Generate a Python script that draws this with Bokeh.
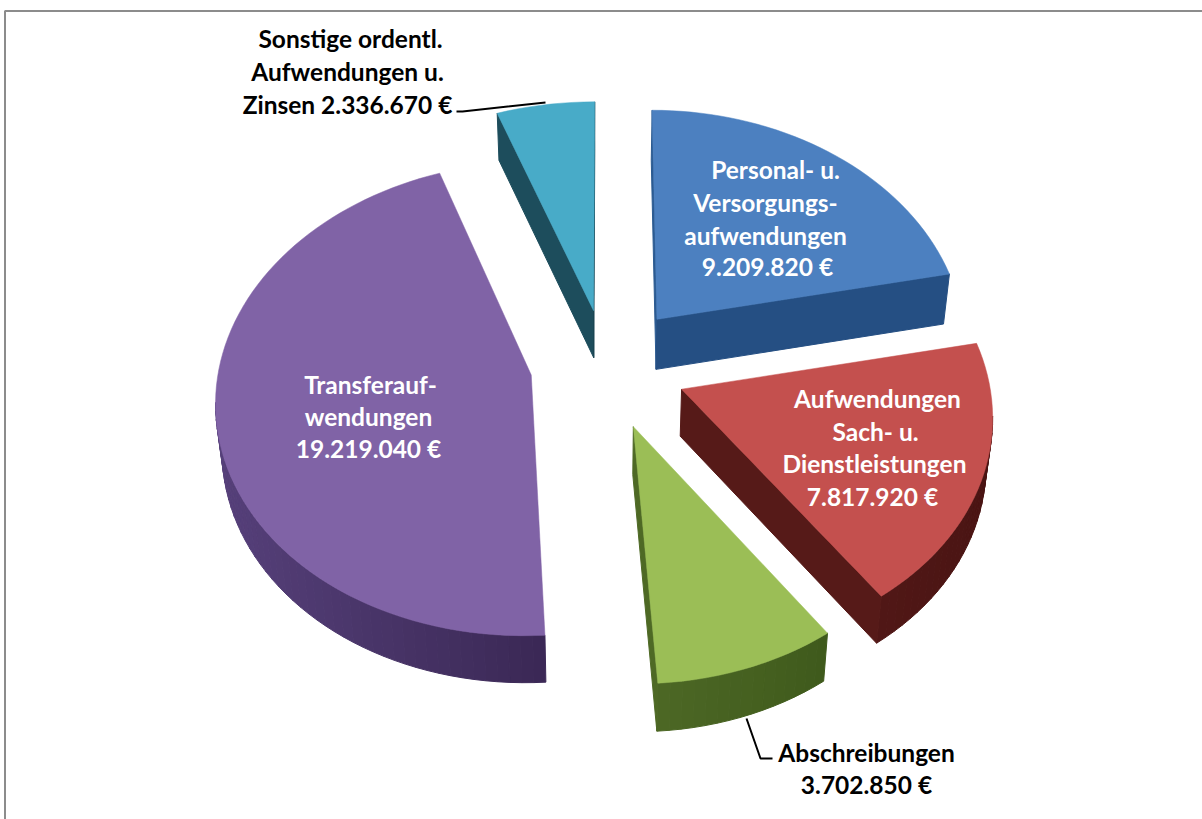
import math
from bokeh.plotting import figure
from bokeh.models import ColumnDataSource, Range1d
from bokeh.core.properties import value
from bokeh.embed import file_html
from bokeh.resources import INLINE

# --- data ---
categories = ["Personal- u. Versorgungsaufwendungen", "Aufwendungen Sach- u. Dienstleistungen",
              "Abschreibungen", "Transferaufwendungen", "Sonstige ordentl. Aufwendungen u. Zinsen"]
amounts = [9209820, 7817920, 3702850, 19219040, 2336670]
label_lines = [
    ["Personal- u.", "Versorgungs-", "aufwendungen", "9.209.820 €"],
    ["Aufwendungen", "Sach- u.", "Dienstleistungen", "7.817.920 €"],
    ["Abschreibungen", "3.702.850 €"],
    ["Transferauf-", "wendungen", "19.219.040 €"],
    ["Sonstige ordentl.", "Aufwendungen u.", "Zinsen 2.336.670 €"],
]

# --- style and layout ---
top_colors = ["#4c80c0", "#c4504e", "#9bbe56", "#8063a6", "#48abc8"]
wall_light = ["#2c5b92", "#5c1d1b", "#4f6a26", "#56407a", "#1f5566"]
wall_dark = ["#1f4474", "#4a1413", "#3f5a1c", "#3a2855", "#1a4552"]
text_colors = ["white", "white", "black", "white", "black"]
explode = [0.27, 0.27, 0.32, 0.22, 0.22]
radius_x = [0.975, 0.955, 0.93, 0.975, 1.0]
radius_y = [1.02, 0.97, 0.93, 0.99, 1.02]
shift_x = [3, 0, -2, 0, 5]
shift_y = [7, 5, -7, 4, 0]
depths = [50, 47, 48, 47, 47]
label_x = [[775, 765, 765, 767], [877, 875, 874, 872], [866, 866], [370, 368, 368], [350, 347, 347]]
label_y = [[169, 202, 235, 266], [398, 431, 463, 496], [752, 784], [384, 416, 448], [38, 71, 104]]
leaders_x = [[456, 462, 545], [746, 760, 772]]
leaders_y = [[111, 111, 102], [718, 758, 758]]
CX, CY, A, B, K, FLOOR_SCALE = 600, 360, 320, 235, 0.1, 0.983
W, H = 1202, 819


def project(X, Y):
    w = 1 + K * Y
    return CX + A * X / w, CY - B * Y / w


def mix(c1, c2, t):
    a = [int(c1[i:i + 2], 16) for i in (1, 3, 5)]
    b = [int(c2[i:i + 2], 16) for i in (1, 3, 5)]
    return "#%02x%02x%02x" % tuple(round(p + (q - p) * t) for p, q in zip(a, b))


def floor(xv):
    return CX + (xv - CX) * FLOOR_SCALE


total = sum(amounts)
tops_x, tops_y, top_fill = [], [], []
walls_x, walls_y, wall_fill = [], [], []
start = 0.0
for i, v in enumerate(amounts):
    sweep = 2 * math.pi * v / total
    mid = start + sweep / 2
    ex, ey = explode[i] * math.sin(mid), explode[i] * math.cos(mid)
    n = max(6, int(sweep / math.radians(2)))
    pts = [project(ex, ey)]
    for j in range(n + 1):
        t = start + sweep * j / n
        pts.append(project(ex + radius_x[i] * math.sin(t), ey + radius_y[i] * math.cos(t)))
    pts = [(q[0] + shift_x[i], q[1] + shift_y[i]) for q in pts]
    pts_closed = pts + [pts[0]]
    xs_all = [q[0] for q in pts]
    x0, x1 = min(xs_all), max(xs_all)
    for (xa, ya), (xb, yb) in zip(pts_closed[:-1], pts_closed[1:]):
        if (xb - xa) < -1e-6:  # edge faces the viewer
            tt = ((xa + xb) / 2 - x0) / max(1, x1 - x0)
            walls_x.append([xa, xb, floor(xb), floor(xa)])
            walls_y.append([ya, yb, yb + depths[i], ya + depths[i]])
            wall_fill.append(mix(wall_light[i], wall_dark[i], tt))
    tops_x.append([q[0] for q in pts])
    tops_y.append([q[1] for q in pts])
    top_fill.append(top_colors[i])
    start += sweep

p = figure(width=W, height=H, output_backend="svg", toolbar_location=None,
           x_range=Range1d(0, W), y_range=Range1d(H, 0), min_border=0,
           outline_line_color=None, background_fill_color="white",
           border_fill_color="white", x_axis_location=None, y_axis_location=None,
           styles={"position": "absolute", "left": "0px", "top": "0px"})
p.grid.visible = False

# frame of the picture
p.line([4.5, 4.5, W], [H, 10.5, 10.5], line_color="#8c8c8c", line_width=2)

p.patches("x", "y", source=ColumnDataSource(dict(x=walls_x, y=walls_y, c=wall_fill)),
          fill_color="c", line_color="c", line_width=1)
p.patches("x", "y", source=ColumnDataSource(dict(x=tops_x, y=tops_y, c=top_fill)),
          fill_color="c", line_color="c", line_width=0.5)

p.multi_line(leaders_x, leaders_y, line_color="black", line_width=2)

tx, ty, tt, tc = [], [], [], []
for i, lines in enumerate(label_lines):
    for j, s in enumerate(lines):
        tx.append(label_x[i][j])
        ty.append(label_y[i][j])
        tt.append(s)
        tc.append(text_colors[i])
p.text("x", "y", text="t", source=ColumnDataSource(dict(x=tx, y=ty, t=tt, c=tc)),
       text_color="c", text_align="center", text_baseline="middle",
       text_font=value("Lato"), text_font_style="bold", text_font_size="24.5px")

open("out.html", "w").write(file_html(p, INLINE))
